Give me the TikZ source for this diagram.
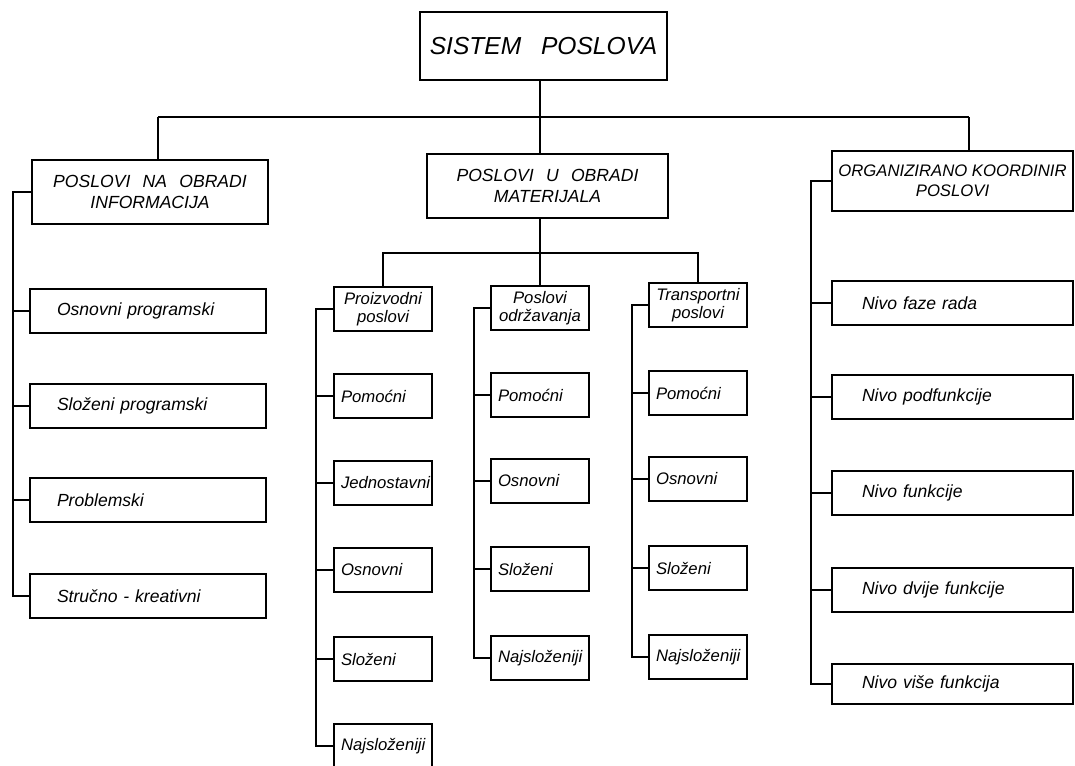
\documentclass[tikz,border=0pt]{standalone}
\usepackage{fontspec}
\setmainfont{Liberation Sans}
\begin{document}
\begin{tikzpicture}[x=0.02cm,y=-0.02cm,
  base/.style={draw, line width=0.04cm, inner ysep=0pt,
    font={\itshape\fontsize{10}{11.5}\selectfont\spaceskip=0.7em\relax}},
  topbox/.style={base, align=center, minimum width=4.94cm, minimum height=1.36cm,
    font={\itshape\fontsize{14}{16}\selectfont\spaceskip=0.8em\relax}},
  head/.style={base, align=center, inner xsep=0pt},
  leafL/.style={base, align=left, text width=3.64cm, inner xsep=0.54cm, minimum height=0.88cm},
  leafR/.style={base, align=left, text width=3.62cm, inner xsep=0.6cm, minimum height=0.88cm},
  shead/.style={base, align=center, inner xsep=0pt, minimum width=1.96cm, minimum height=0.88cm,
    font={\itshape\fontsize{9.5}{10.5}\selectfont}},
  leafS/.style={base, align=left, text width=1.68cm, inner xsep=0.14cm, minimum height=0.88cm,
    font={\itshape\fontsize{9.5}{10.5}\selectfont}},
  conn/.style={draw, line width=0.04cm}
]
\useasboundingbox (0,0) rectangle (1075,765);

% top
\node[topbox] (S) at (543.5,46) {SISTEM POSLOVA};

% main headers
\node[head, minimum width=4.72cm, minimum height=1.28cm] (L) at (150,192) {POSLOVI NA OBRADI\\INFORMACIJA};
\node[head, minimum width=4.82cm, minimum height=1.28cm] (M) at (547.5,186) {POSLOVI U OBRADI\\MATERIJALA};
\node[head, minimum width=4.82cm, minimum height=1.2cm,
  font={\itshape\fontsize{9.5}{11.5}\selectfont}] (R) at (952.5,181) {ORGANIZIRANO KOORDINIR\\POSLOVI};

% left column
\node[leafL] (L1) at (148,311) {Osnovni programski};
\node[leafL] (L2) at (148,406) {Složeni programski};
\node[leafL] (L3) at (148,500) {Problemski};
\node[leafL] (L4) at (148,596) {Stručno - kreativni};

% right column
\node[leafR] (R1) at (952.5,303) {Nivo faze rada};
\node[leafR] (R2) at (952.5,397) {Nivo podfunkcije};
\node[leafR] (R3) at (952.5,493) {Nivo funkcije};
\node[leafR] (R4) at (952.5,590) {Nivo dvije funkcije};
\node[leafR, minimum height=0.8cm] (R5) at (952.5,684) {Nivo više funkcija};

% sub headers
\node[shead] (P) at (383,309) {Proizvodni\\poslovi};
\node[shead] (O) at (540,308) {Poslovi\\održavanja};
\node[shead] (T) at (698,305) {Transportni\\poslovi};

% P leaves
\node[leafS] (P1) at (383,396) {Pomoćni};
\node[leafS] (P2) at (383,483) {Jednostavni};
\node[leafS] (P3) at (383,570) {Osnovni};
\node[leafS] (P4) at (383,659) {Složeni};
\node[leafS] (P5) at (383,746) {Najsloženiji};

% O leaves
\node[leafS] (O1) at (540,395) {Pomoćni};
\node[leafS] (O2) at (540,481) {Osnovni};
\node[leafS] (O3) at (540,569) {Složeni};
\node[leafS] (O4) at (540,658) {Najsloženiji};

% T leaves
\node[leafS] (T1) at (698,393) {Pomoćni};
\node[leafS] (T2) at (698,479) {Osnovni};
\node[leafS] (T3) at (698,568) {Složeni};
\node[leafS] (T4) at (698,657) {Najsloženiji};

% top bus
\coordinate (bL) at (158,117);
\coordinate (bM) at (540,117);
\coordinate (bR) at (969,117);
\draw[conn] (bL) -- (bR);
\draw[conn] (S.south -| bM) -- (bM) -- (M.north -| bM);
\draw[conn] (bL) -- (bL |- L.north);
\draw[conn] (bR) -- (bR |- R.north);

% middle sub bus
\coordinate (mb) at (540,253);
\draw[conn] (M.south -| mb) -- (mb);
\draw[conn] (P.north) |- (mb) -| (T.north);
\draw[conn] (O.north) -- (O.north |- mb);

% trunks
\coordinate (tL) at (13,0);
\coordinate (tP) at (316,0);
\coordinate (tO) at (474,0);
\coordinate (tT) at (632,0);
\coordinate (tR) at (811,0);

\draw[conn] (L.west) -| (tL |- L4.west) -- (L4.west);
\foreach \n in {L1,L2,L3} \draw[conn] (tL |- \n.west) -- (\n.west);

\draw[conn] (R.west) -| (tR |- R5.west) -- (R5.west);
\foreach \n in {R1,R2,R3,R4} \draw[conn] (tR |- \n.west) -- (\n.west);

\draw[conn] (P.west) -| (tP |- P5.west) -- (P5.west);
\foreach \n in {P1,P2,P3,P4} \draw[conn] (tP |- \n.west) -- (\n.west);

\draw[conn] (O.west) -| (tO |- O4.west) -- (O4.west);
\foreach \n in {O1,O2,O3} \draw[conn] (tO |- \n.west) -- (\n.west);

\draw[conn] (T.west) -| (tT |- T4.west) -- (T4.west);
\foreach \n in {T1,T2,T3} \draw[conn] (tT |- \n.west) -- (\n.west);
\end{tikzpicture}
\end{document}
